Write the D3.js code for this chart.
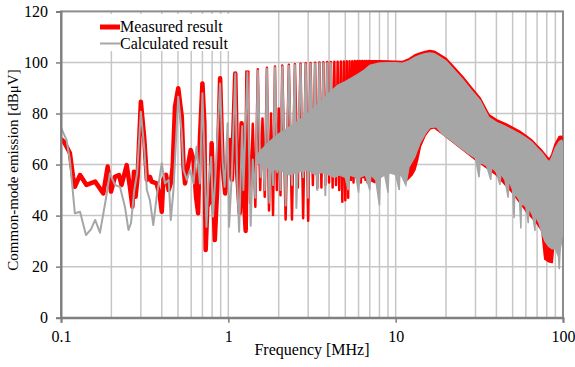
<!DOCTYPE html>
<html>
<head>
<meta charset="utf-8">
<script src="https://cdn.jsdelivr.net/npm/d3@7"></script>
<style>
  body { margin: 0; background: #fff; }
  svg text { font-family: "Liberation Serif", "Times New Roman", Times, serif !important; }
</style>
</head>
<body>
<div id="chart"></div>
<script>
// ---- data: [frequency MHz, level dBuV] ----
const measuredLow = [
  [0.100,70],[0.104,69],[0.108,67],[0.113,64.5],[0.118,55.2],[0.121,51.3],[0.130,55.9],[0.142,52],
  [0.160,53.3],[0.179,48.7],[0.190,59.2],[0.199,49.4],[0.210,55.2],[0.222,55.9],[0.230,52],[0.247,59.8],
  [0.258,51.3],[0.267,43.5],[0.273,57.2],[0.279,47.4],[0.287,55.2],[0.300,84.6],[0.315,69.6],[0.326,54],
  [0.340,55.2],[0.348,53.3],[0.373,52.6],[0.390,47.4],[0.400,41.5],[0.409,54],[0.424,56],[0.440,50],
  [0.453,52.6],[0.465,59.2],[0.480,82.7],[0.502,89.9],[0.527,78.7],[0.540,59.2],[0.551,52.6],[0.577,60.5],
  [0.596,65.7],[0.620,61.8],[0.641,47.4],[0.660,40.9],[0.676,69.6],[0.700,91.8],[0.719,76.2],[0.732,26.5],
  [0.749,43.5],[0.780,46.1],[0.795,68.3],[0.810,52.6],[0.830,30.4],[0.859,51.3],[0.893,93.8],[0.925,59.2],
  [0.957,48.7],[0.990,56.6],[1.020,69.6],[1.050,54],[1.100,95.7],[1.130,56.6],[1.170,40.9],[1.200,76.2],
  [1.230,50],[1.270,34],[1.300,96.8]
];
const measuredHarm = [
  [1.3,96.8],[1.35,45],[1.4,76],[1.45,43.5],[1.5,97.3],[1.55,50],[1.6,78],[1.65,47.4],[1.7,97.9],
  [1.75,42],[1.8,80],[1.85,40.2],[1.9,98.4],[1.95,50],[2.0,82],[2.05,48],[2.1,98.8],[2.2,38.5],
  [2.3,99.1],[2.4,38.5],[2.5,99.3],[2.6,51],[2.7,99.5],[2.8,39],[2.9,99.7],[3.0,38],[3.1,99.8],
  [3.2,52],[3.3,99.9],[3.4,50.8],[3.5,100],[3.6,51],[3.7,100.1],[3.8,52],[3.9,100.2],[4.0,53],
  [4.1,100.2],[4.2,51],[4.3,100.3],[4.4,52],[4.5,100.3],[4.6,50],[4.7,100.4],[4.8,45.4],[4.9,100.4],
  [5.0,46],[5.1,100.5],[5.2,47],[5.3,100.5],[5.4,54],[5.5,100.5],[5.6,53],[5.7,100.6],[5.8,55],
  [5.9,100.6],[6.0,54],[6.1,100.6],[6.2,53],[6.3,100.6],[6.4,55],[6.5,100.6],[6.6,54],[6.7,100.6],
  [6.8,53],[6.9,100.6],[7.0,55]
];
// dense band of the measured curve above 7 MHz: upper and lower envelope
const measuredTop = [
  [7,100.6],[8,100.6],[9,100.5],[10,100.4],[11,100.3],[12,101.3],[13,102.8],[14,103.6],[15,104.2],
  [16,104.6],[17,104.3],[18,103.4],[20,101.5],[22,98.5],[25,94.5],[28,90.5],[32,85.9],[36,79.5],
  [40,77.5],[45,76],[50,74.5],[55,73],[60,71.3],[65,69.5],[70,67.3],[75,65.3],[80,63],[83,62],
  [86,64],[90,68],[95,70.9],[98,71],[100,69.8]
];
const measuredBottom = [
  [7,54],[7.5,53],[8,55],[9,57],[10,57],[11,56],[11.7,54],[12.5,56],[13,58],[13.5,62],[14,67],
  [15,71.5],[16,74],[17,74.5],[20,71],[30,62],[40,56],[50,49],[60,42],[70,37],[75,34],[78,23],
  [82,22],[86,21.7],[88,29],[90,31],[92,28],[95,26],[97,30],[99,36],[100,40]
];

const calculatedLow = [
  [0.100,74.5],[0.108,69.6],[0.113,61.8],[0.121,40.9],[0.130,41.5],[0.141,32.4],[0.151,34.6],
  [0.160,38.3],[0.171,33.3],[0.185,46.1],[0.196,56.6],[0.210,52],[0.225,51.3],[0.241,43.5],
  [0.253,34.4],[0.262,37],[0.274,50],[0.285,56.6],[0.300,80.7],[0.315,65.7],[0.326,50],[0.340,46],
  [0.356,36.3],[0.373,47.4],[0.400,60.5],[0.418,52.6],[0.440,54],[0.453,38.3],[0.470,50],[0.502,86.6],
  [0.527,72],[0.540,57.9],[0.565,54],[0.590,57.9],[0.620,52.6],[0.646,67],[0.676,52.6],[0.700,87.9],
  [0.719,65],[0.740,35.6],[0.760,52.6],[0.790,63],[0.810,39.6],[0.835,54],[0.893,91.8],[0.925,61],
  [0.950,51.3],[0.990,76.2],[1.010,35.6],[1.050,56.6],[1.100,95.7],[1.130,54],[1.160,33.7],
  [1.190,59.2],[1.210,75],[1.230,50],[1.300,96.2]
];
const calculatedHarm = [
  [1.3,96.2],[1.36,36],[1.4,62],[1.45,47],[1.5,96.8],[1.56,55],[1.6,66],[1.65,50],[1.7,97.5],
  [1.76,45],[1.8,68],[1.85,52],[1.9,98],[1.96,57],[2.0,70],[2.05,50],[2.1,98.4],[2.2,44],[2.3,98.7],
  [2.4,52],[2.5,99],[2.55,43],[2.6,60],[2.7,99.2],[2.8,55],[2.9,99.4],[3.0,47],[3.1,99.5],[3.2,58],
  [3.3,99.6],[3.4,50],[3.5,99.7],[3.6,57],[3.7,99.8],[3.8,48],[3.9,99.8],[4.0,58],[4.1,99.8],[4.2,60]
];
const calculatedTop = [
  [1.5,64],[1.7,68],[2,72],[2.5,76],[3,80],[3.5,84],[4,88],[4.5,91],[5,92.5],[5.5,94],[6,95.5],
  [6.5,97],[7,98.8],[8,99.8],[9,99.9],[10,99.9],[11,99.7],[12,100.6],[13,102],[14,102.8],[15,103.4],
  [16,103.7],[17,103.4],[18,102.5],[20,100.5],[22,97.5],[25,93.5],[28,89.5],[32,85],[36,78.5],
  [40,76.5],[45,75],[50,73.5],[55,72],[60,70.5],[65,68.8],[70,66.5],[75,64.5],[80,62],[83,61],
  [86,63],[90,66.5],[95,69],[98,69.5],[100,68.5]
];
const calculatedBottom = [
  [1.5,61],[1.8,58],[2,58],[2.3,56],[2.6,57],[3,58],[3.3,56],[3.6,57],[4,56],[4.3,55],
  [4.6,56],[5,55],[5.2,50],[5.3,56],[5.8,55],[6,49],[6.1,55],[6.6,56],[7,50],[7.1,56],[7.6,54],
  [8,44],[8.1,55],[8.6,56],[9,49],[9.1,57],[10,56],[10.5,50],[10.6,57],[11.5,52],[12,59],[13,63],
  [14,68.5],[15,72],[16,74.5],[17.5,74.8],[19,72],[21.5,69.5],[24,67],[27,64.5],[30,62.5],[31.5,55],
  [32,61],[35,59.5],[37,54],[37.5,59],[40,57],[42,52],[42.5,56.5],[45,54],[47,47],[47.5,54],[50,50],
  [51,39],[51.5,49],[55,46],[56,35],[56.5,45],[60,43.5],[62,37],[62.5,43],[66,40],[68,34],[68.5,40],
  [72,37],[75,33],[78,30],[82,28],[86,27],[90,27],[94,24],[95,19],[96,26],[98,31],[100,33]
];

const yTicks = [0, 20, 40, 60, 80, 100, 120];
const xTicks = [0.1, 1, 10, 100];
const xTickLabels = ["0.1", "1", "10", "100"];
const seriesNames = ["Measured result", "Calculated result"];

// ---- drawing ----
const width = 575, height = 367;
const svg = d3.select("#chart").append("svg")
  .attr("width", width).attr("height", height);

const x = d3.scaleLog().domain([0.1, 100]).range([61, 563]);
const y = d3.scaleLinear().domain([0, 120]).range([317.7, 11.4]);

const red = "#ff0000", grey = "#a6a6a6";

svg.append("clipPath").attr("id", "plot")
  .append("rect").attr("x", 61).attr("y", 11.4).attr("width", 502).attr("height", 306.3);

// grid
const grid = svg.append("g");
grid.selectAll("line.v").data(x.ticks().filter(t => t > 0.1 && t < 100))
  .enter().append("line")
  .attr("x1", d => x(d)).attr("x2", d => x(d))
  .attr("y1", y(0)).attr("y2", y(120))
  .attr("stroke", "#c6c6c6").attr("stroke-width", 1.5);
grid.selectAll("line.h").data(yTicks.filter(t => t > 0 && t < 120))
  .enter().append("line")
  .attr("x1", x(0.1)).attr("x2", x(100))
  .attr("y1", d => y(d)).attr("y2", d => y(d))
  .attr("stroke", "#c6c6c6").attr("stroke-width", 1.5);

// frame
svg.append("rect")
  .attr("x", x(0.1)).attr("y", y(120))
  .attr("width", x(100) - x(0.1)).attr("height", y(0) - y(120))
  .attr("fill", "none").attr("stroke", "#8c8c8c").attr("stroke-width", 2);

const line = d3.line().x(d => x(d[0])).y(d => y(d[1]));
const band = (top, bottom) => line(top.concat(bottom.slice().reverse())) + "Z";

const plot = svg.append("g").attr("clip-path", "url(#plot)");

// measured (underneath)
plot.append("path").attr("d", line(measuredLow))
  .attr("fill", "none").attr("stroke", red).attr("stroke-width", 4.5)
  .attr("stroke-linejoin", "round");
plot.append("path").attr("d", line(measuredHarm))
  .attr("fill", "none").attr("stroke", red).attr("stroke-width", 2.5)
  .attr("stroke-linejoin", "round");
plot.append("path").attr("d", band(measuredTop, measuredBottom))
  .attr("fill", red).attr("stroke", red).attr("stroke-width", 2)
  .attr("stroke-linejoin", "round");

// calculated (on top)
plot.append("path").attr("d", band(calculatedTop, calculatedBottom))
  .attr("fill", grey).attr("stroke", grey).attr("stroke-width", 1.5);
plot.append("path").attr("d", line(calculatedLow.concat(calculatedHarm.slice(1))))
  .attr("fill", "none").attr("stroke", grey).attr("stroke-width", 2)
  .attr("stroke-linejoin", "round");

// axes
const yAxis = svg.append("g").attr("transform", `translate(${x(0.1)},0)`)
  .call(d3.axisLeft(y).tickValues(yTicks).tickSize(5).tickPadding(8));
const xAxis = svg.append("g").attr("transform", `translate(0,${y(0)})`)
  .call(d3.axisBottom(x).tickValues(xTicks).tickFormat((d, i) => xTickLabels[i])
    .tickSize(5).tickPadding(8));
[yAxis, xAxis].forEach(a => {
  a.attr("font-family", null);
  a.select(".domain").attr("stroke", "#7f7f7f").attr("stroke-width", 2);
  a.selectAll(".tick line").attr("stroke", "#7f7f7f").attr("stroke-width", 1.5);
  a.selectAll("text").attr("font-size", 16).attr("fill", "#000");
});

// axis titles
svg.append("text")
  .attr("transform", "translate(18,170) rotate(-90)")
  .attr("text-anchor", "middle").attr("font-size", 15)
  .text("Common-mode emission [dBμV]");
svg.append("text")
  .attr("x", 312).attr("y", 355)
  .attr("text-anchor", "middle").attr("font-size", 16)
  .text("Frequency [MHz]");

// legend
const legend = svg.append("g");
legend.append("rect").attr("x", 96).attr("y", 14).attr("width", 136).attr("height", 37)
  .attr("fill", "#fff");
legend.append("line").attr("x1", 100).attr("x2", 120).attr("y1", 27).attr("y2", 27)
  .attr("stroke", red).attr("stroke-width", 5);
legend.append("line").attr("x1", 100).attr("x2", 120).attr("y1", 43.5).attr("y2", 43.5)
  .attr("stroke", grey).attr("stroke-width", 2);
legend.append("text").attr("x", 120).attr("y", 32).attr("font-size", 16).text(seriesNames[0]);
legend.append("text").attr("x", 120).attr("y", 49).attr("font-size", 16).text(seriesNames[1]);
</script>
</body>
</html>
